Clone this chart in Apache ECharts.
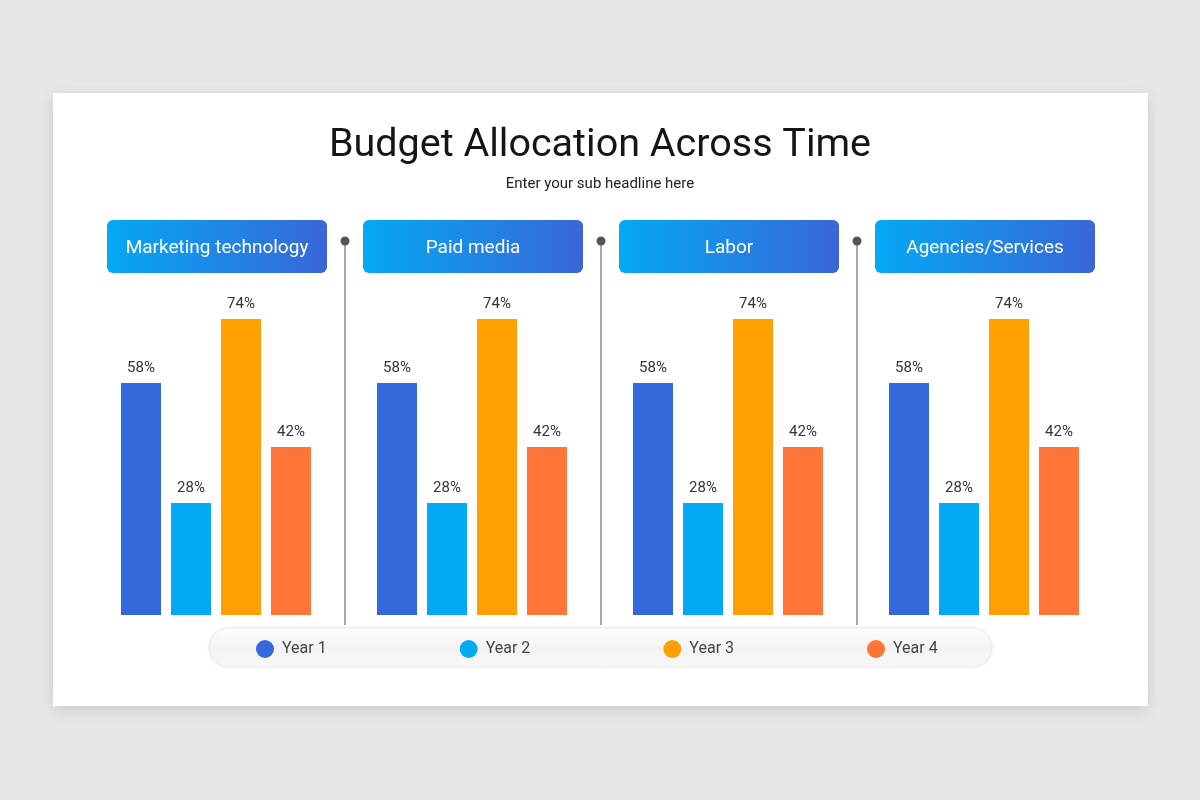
<!DOCTYPE html>
<html><head><meta charset="utf-8">
<script src="https://cdn.jsdelivr.net/npm/echarts@6/dist/echarts.min.js"></script>
<style>html,body{margin:0;padding:0;background:#e8e6e8;}#c{width:1200px;height:800px;}</style>
</head><body><div id="c"></div>
<script>
const categories = ['Marketing technology', 'Paid media', 'Labor', 'Agencies/Services'];
const seriesNames = ['Year 1', 'Year 2', 'Year 3', 'Year 4'];
const year1 = [58, 58, 58, 58];
const year2 = [28, 28, 28, 28];
const year3 = [74, 74, 74, 74];
const year4 = [42, 42, 42, 42];
const colors = ['#3469dc', '#03a9f4', '#ffa000', '#ff7437'];
const title = 'Budget Allocation Across Time';
const subtitle = 'Enter your sub headline here';

const values = [year1, year2, year3, year4];
const chart = echarts.init(document.getElementById('c'));
const font = 'Roboto';
const grids = [], xAxes = [], yAxes = [], series = [], graphics = [];

graphics.push({type:'rect', shape:{x:53,y:93,width:1095,height:613}, style:{fill:'#fff', shadowBlur:14, shadowColor:'rgba(0,0,0,0.12)', shadowOffsetY:4}, z:-10});
graphics.push({type:'rect', shape:{x:209,y:628,width:783,height:39,r:19.5}, style:{fill:new echarts.graphic.LinearGradient(0,0,0,1,[{offset:0,color:'#ffffff'},{offset:0.5,color:'#f3f3f3'},{offset:1,color:'#f7f7f7'}]), stroke:'#ececec', lineWidth:1, shadowBlur:4, shadowColor:'rgba(0,0,0,0.06)'}, z:-5});

categories.forEach((cat, i) => {
  const left = 107 + 256 * i;
  grids.push({left: left - 1, top: 215, width: 220, height: 400});
  xAxes.push({type:'category', gridIndex:i, data:[cat], show:false});
  yAxes.push({type:'value', gridIndex:i, min:0, max:100, show:false});
  values.forEach((arr, s) => {
    series.push({
      type:'bar', name: seriesNames[s], xAxisIndex:i, yAxisIndex:i,
      data:[arr[i]], barWidth:40, barGap:'25%',
      itemStyle:{color: colors[s]},
      label:{show:true, position:'top', distance:7, formatter:'{c}%', color:'#333', fontSize:15, fontFamily:font}
    });
  });
  graphics.push({type:'rect', shape:{x:left, y:220, width:220, height:53, r:6},
    style:{fill:new echarts.graphic.LinearGradient(0,0,1,0,[{offset:0,color:'#03a9f4'},{offset:1,color:'#3a66d8'}])}, z:5});
  graphics.push({type:'text', x:left+110, y:248, style:{text:cat, fill:'#fff', fontSize:19, fontFamily:font, align:'center', verticalAlign:'middle'}, z:6});
  if (i > 0) {
    const lx = 345 + 256 * (i - 1);
    graphics.push({type:'line', shape:{x1:lx, y1:241, x2:lx, y2:625}, style:{stroke:'#8a8a8a', lineWidth:1.5}, z:4});
    graphics.push({type:'circle', shape:{cx:lx, cy:241, r:4.5}, style:{fill:'#555'}, z:5});
  }
});

chart.setOption({
  animation:false,
  title:[
    {text:title, left:'center', top:121, textStyle:{fontFamily:font, fontSize:39.5, fontWeight:'normal', color:'#151515'}},
    {text:subtitle, left:'center', top:172, textStyle:{fontFamily:font, fontSize:15, fontWeight:'normal', color:'#222'}}
  ],
  color: colors,
  legend:{data:seriesNames, left:251, top:635, icon:'circle', itemWidth:18, itemHeight:18, itemGap:133,
    textStyle:{fontFamily:font, fontSize:16, color:'#444', padding:[0,0,0,3]}},
  grid: grids, xAxis: xAxes, yAxis: yAxes, series: series,
  graphic: graphics
});
</script></body></html>
